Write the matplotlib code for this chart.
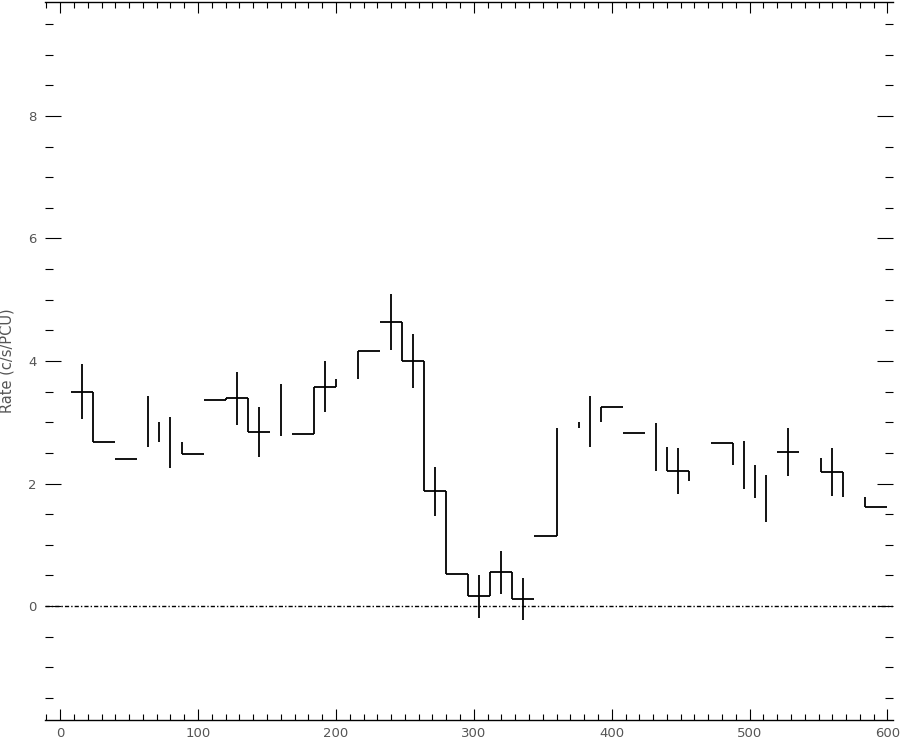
import numpy as np
import matplotlib
matplotlib.use("Agg")
import matplotlib.pyplot as plt
from matplotlib.ticker import MultipleLocator

# bin centres (bins are 16 units wide)
phase = [16, 32, 48, 64, 80, 96, 112, 128, 144, 160, 176, 192, 208, 224, 240,
         256, 272, 288, 304, 320, 336, 352, 368, 384, 400, 416, 432, 448, 464,
         480, 496, 512, 528, 544, 560, 576, 592]
rate = [3.50, 2.68, 2.40, 3.01, 2.67, 2.48, 3.36, 3.39, 2.84, 3.20, 2.81, 3.58,
        3.70, 4.16, 4.64, 4.00, 1.87, 0.52, 0.16, 0.55, 0.11, 1.15, 2.90, 3.01,
        3.25, 2.82, 2.60, 2.21, 2.04, 2.66, 2.30, 1.76, 2.52, 2.41, 2.19, 1.78,
        1.61]
nan = np.nan
rate_err = [0.45, nan, nan, 0.42, 0.42, nan, nan, 0.435, 0.405, 0.425, nan, 0.42,
            nan, nan, 0.46, 0.435, 0.395, nan, 0.355, 0.355, 0.34, nan, nan, 0.42,
            nan, nan, 0.395, 0.375, nan, nan, 0.39, 0.38, 0.39, nan, 0.395, nan,
            nan]
# which pieces of the histogram survive in the original rendering
step_shown = [1, 1, 1, 0, 0, 1, 1, 1, 1, 0, 1, 1, 0, 1, 1, 1, 1, 1, 1, 1, 1, 1,
              0, 0, 1, 1, 0, 1, 0, 1, 0, 0, 1, 0, 1, 0, 1]
edge_shown = [1, 0, 0, 1, 1, 0, 1, 1, 0, 0, 1, 1, 1, 0, 1, 1, 1, 1, 1, 1, 0, 1,
              1, 1, 0, 0, 1, 1, 0, 1, 1, 0, 0, 1, 1, 1]
bin_width = 16

x = np.array(phase, dtype=float)
y = np.array(rate)
e = np.array(rate_err)
hs = np.array(step_shown, dtype=bool)
es = np.array(edge_shown, dtype=bool)

fig = plt.figure(figsize=(9.03, 7.47), dpi=100)
ax = fig.add_axes([45/903, 27/747, 848/903, 718/747])

lw = 1.3
ax.hlines(y[hs], x[hs] - bin_width/2, x[hs] + bin_width/2, color='k', lw=lw)
edge_x = x[:-1] + bin_width/2
ax.vlines(edge_x[es], y[:-1][es], y[1:][es], color='k', lw=lw)
ok = ~np.isnan(e)
ax.errorbar(x[ok], y[ok], yerr=e[ok], fmt='none', ecolor='k', elinewidth=lw, capsize=0)

ax.axhline(0, color='k', lw=1.0, ls=(0, (3, 1.5, 1, 1.5)))

ax.set_xlim(-11, 604)
ax.set_ylim(-1.86, 9.86)
ax.xaxis.set_major_locator(MultipleLocator(100))
ax.xaxis.set_minor_locator(MultipleLocator(10))
ax.yaxis.set_major_locator(MultipleLocator(2))
ax.yaxis.set_minor_locator(MultipleLocator(0.5))

ax.tick_params(axis='both', which='both', direction='in', top=True, right=True,
               labelcolor='#555555', labelsize=9.5, width=0.8, color='k')
ax.tick_params(axis='x', which='major', length=8, pad=5)
ax.tick_params(axis='x', which='minor', length=4)
ax.tick_params(axis='y', which='major', length=11.5, pad=6)
ax.tick_params(axis='y', which='minor', length=5.5)

ax.spines['left'].set_visible(False)
ax.spines['right'].set_visible(False)
ax.spines['top'].set_linewidth(1.0)
ax.spines['bottom'].set_linewidth(1.0)

ax.set_ylabel("Rate (c/s/PCU)", fontsize=10.5, color='#555555')
ax.yaxis.set_label_coords(-0.036, 0.5)

fig.savefig("out.png", dpi=100)
